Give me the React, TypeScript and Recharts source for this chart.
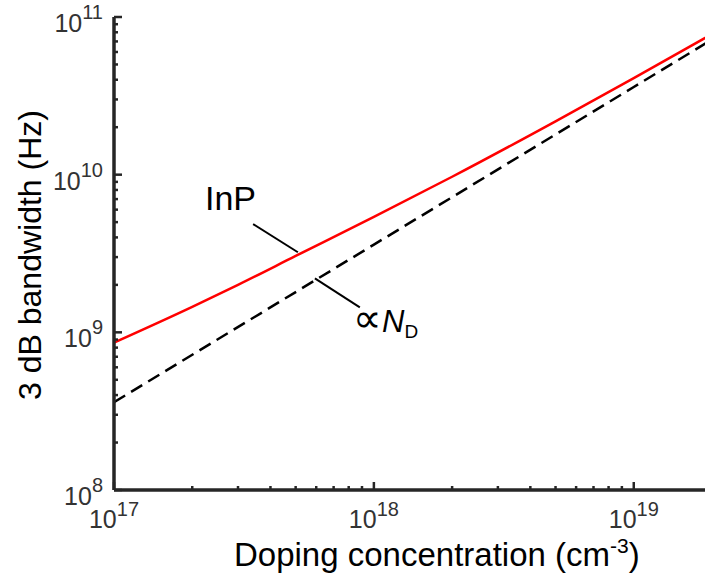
import { Line, LineChart, ReferenceLine, XAxis, YAxis } from "recharts";

// doping concentration (cm^-3) vs 3 dB bandwidth (Hz)
const inpDoping = [1e17, 2e17, 3e17, 5e17, 1e18, 2e18, 5e18, 1e19, 2e19];
const inpBandwidth = [8.6e8, 1.45e9, 2.0e9, 3.05e9, 5.4e9, 9.7e9, 2.18e10, 4.1e10, 7.8e10];

const propDoping = [1e17, 1e18, 1e19, 2e19];
const propBandwidth = [3.6e8, 3.6e9, 3.6e10, 7.2e10];

const xTicks = [
  1e17, 2e17, 3e17, 4e17, 5e17, 6e17, 7e17, 8e17, 9e17,
  1e18, 2e18, 3e18, 4e18, 5e18, 6e18, 7e18, 8e18, 9e18,
  1e19, 2e19,
];
const xMajor = [1e17, 1e18, 1e19];
const xExp = ["17", "18", "19"];

const yTicks = [
  1e8, 2e8, 3e8, 4e8, 5e8, 6e8, 7e8, 8e8, 9e8,
  1e9, 2e9, 3e9, 4e9, 5e9, 6e9, 7e9, 8e9, 9e9,
  1e10, 2e10, 3e10, 4e10, 5e10, 6e10, 7e10, 8e10, 9e10,
  1e11,
];
const yMajor = [1e8, 1e9, 1e10, 1e11];
const yExp = ["8", "9", "10", "11"];

const inpData = inpDoping.map((x, i) => ({ x, y: inpBandwidth[i] }));
const propData = propDoping.map((x, i) => ({ x, y: propBandwidth[i] }));

const FONT = "'Liberation Sans', Arial, sans-serif";
const AXIS = "#262626";
const LABEL = "#333333";

const XTick = (props: any) => {
  const { x, y, payload, top } = props;
  const i = xMajor.indexOf(payload.value);
  const len = i >= 0 ? 8 : 4;
  return (
    <g>
      <line x1={x} x2={x} y1={y} y2={top ? y + len : y - len} stroke={AXIS} strokeWidth={2.5} />
      {!top && i >= 0 && (
        <text x={x} y={y + 38} textAnchor="middle" fill={LABEL} fontSize={25} fontFamily={FONT}>
          <tspan>10</tspan>
          <tspan dy={-12} fontSize={20}>{xExp[i]}</tspan>
        </text>
      )}
    </g>
  );
};

const YTick = (props: any) => {
  const { x, y, payload, right } = props;
  const i = yMajor.indexOf(payload.value);
  const len = i >= 0 ? 8 : 4;
  return (
    <g>
      <line x1={x} x2={right ? x - len : x + len} y1={y} y2={y} stroke={AXIS} strokeWidth={2.5} />
      {!right && i >= 0 && (
        <text x={x - 11} y={y + 15} textAnchor="end" fill={LABEL} fontSize={25} fontFamily={FONT}>
          <tspan>10</tspan>
          <tspan dy={-13} fontSize={20}>{yExp[i]}</tspan>
        </text>
      )}
    </g>
  );
};

export default function App() {
  return (
    <div
      style={{
        position: "absolute",
        left: 0,
        top: 0,
        width: 705,
        height: 579,
        overflow: "hidden",
        background: "#fff",
      }}
    >
      <LineChart width={730} height={579} margin={{ top: 17, right: 18, bottom: 0, left: 0 }}>
        <XAxis
          xAxisId="b"
          dataKey="x"
          type="number"
          scale="log"
          domain={[1e17, 2e19]}
          allowDataOverflow
          ticks={xTicks}
          interval={0}
          tickSize={0}
          tickMargin={0}
          tick={<XTick />}
          height={89}
          axisLine={{ stroke: AXIS, strokeWidth: 3.5 }}
        />
        <XAxis
          xAxisId="t"
          orientation="top"
          type="number"
          scale="log"
          domain={[1e17, 2e19]}
          allowDataOverflow
          ticks={xTicks}
          interval={0}
          tickSize={0}
          tickMargin={0}
          tick={<XTick top />}
          height={0}
          axisLine={{ stroke: AXIS, strokeWidth: 3.5 }}
        />
        <YAxis
          yAxisId="l"
          dataKey="y"
          type="number"
          scale="log"
          domain={[1e8, 1e11]}
          allowDataOverflow
          ticks={yTicks}
          interval={0}
          tickSize={0}
          tickMargin={0}
          tick={<YTick />}
          width={114}
          axisLine={{ stroke: AXIS, strokeWidth: 3.5 }}
        />
        <YAxis
          yAxisId="r"
          orientation="right"
          type="number"
          scale="log"
          domain={[1e8, 1e11]}
          allowDataOverflow
          ticks={yTicks}
          interval={0}
          tickSize={0}
          tickMargin={0}
          tick={<YTick right />}
          width={0}
          axisLine={{ stroke: AXIS, strokeWidth: 3.5 }}
        />
        <ReferenceLine
          xAxisId="b"
          yAxisId="l"
          segment={[
            { x: 3.43e17, y: 4.86e9 },
            { x: 5.1e17, y: 3.22e9 },
          ]}
          stroke="#000"
          strokeWidth={2}
        />
        <ReferenceLine
          xAxisId="b"
          yAxisId="l"
          segment={[
            { x: 5.93e17, y: 2.2e9 },
            { x: 8.83e17, y: 1.44e9 },
          ]}
          stroke="#000"
          strokeWidth={2}
        />
        <Line
          xAxisId="b"
          yAxisId="l"
          data={propData}
          dataKey="y"
          type="linear"
          stroke="#000"
          strokeWidth={2.5}
          strokeDasharray="13 7"
          dot={false}
          isAnimationActive={false}
        />
        <Line
          xAxisId="b"
          yAxisId="l"
          data={inpData}
          dataKey="y"
          type="monotone"
          stroke="#ff0000"
          strokeWidth={2.5}
          dot={false}
          isAnimationActive={false}
        />
      </LineChart>
      <svg
        width={705}
        height={579}
        style={{ position: "absolute", left: 0, top: 0, pointerEvents: "none" }}
        fontFamily={FONT}
      >
        <text transform="translate(41,255) rotate(-90)" textAnchor="middle" fontSize={32} fill="#000">
          3 dB bandwidth (Hz)
        </text>
        <text x={234} y={566} fontSize={33} fill="#000">
          Doping concentration (cm
          <tspan dy={-13} fontSize={21}>-3</tspan>
          <tspan dy={13}>)</tspan>
        </text>
        <text x={205} y={210} fontSize={34} fill="#000">
          InP
        </text>
        <text x={353} y={332} fontSize={31} fill="#000">
          <tspan fontSize={40}>∝</tspan>
          <tspan fontStyle="italic">N</tspan>
          <tspan dy={6} fontSize={19}>D</tspan>
        </text>
      </svg>
    </div>
  );
}
